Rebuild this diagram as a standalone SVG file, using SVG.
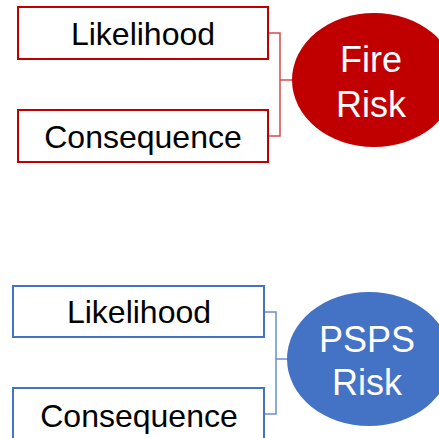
<svg xmlns="http://www.w3.org/2000/svg" width="439" height="438" viewBox="0 0 439 438">
<style>
.box{fill:#fff;stroke-width:2}
.red{stroke:#C00000}
.blue{stroke:#4472C4}
.lbl{font-family:"Liberation Sans",Arial,sans-serif;font-size:32px;fill:#000;text-anchor:middle}
.big{font-family:"Liberation Sans",Arial,sans-serif;font-size:36px;fill:#fff;text-anchor:middle}
.conn{fill:none;stroke-width:1.5}
</style>
<rect width="439" height="438" fill="#fff"/>
<g id="connectors">
<path class="conn" stroke="#D24A4A" d="M268,33 H280 V136 H268 M280,80 H293"/>
<path class="conn" stroke="#6A8FD0" d="M264,312 H276 V414 H264 M276,359 H288"/>
</g>
<g id="fire-likelihood"><rect class="box red" x="18" y="7" width="250" height="52"/><text class="lbl" x="143" y="45">Likelihood</text></g>
<g id="fire-consequence"><rect class="box red" x="18" y="110" width="250" height="52"/><text class="lbl" x="143" y="148">Consequence</text></g>
<g id="fire-risk"><ellipse cx="374" cy="80" rx="82" ry="67" fill="#C00000"/><text class="big" x="371" y="72">Fire</text><text class="big" x="371" y="117">Risk</text></g>
<g id="psps-likelihood"><rect class="box blue" x="13" y="286" width="251" height="51"/><text class="lbl" x="139" y="323">Likelihood</text></g>
<g id="psps-consequence"><rect class="box blue" x="13" y="388" width="251" height="60"/><text class="lbl" x="139" y="427">Consequence</text></g>
<g id="psps-risk"><ellipse cx="369" cy="359" rx="82" ry="67" fill="#4472C4"/><text class="big" x="367" y="352">PSPS</text><text class="big" x="367" y="395">Risk</text></g>
</svg>
